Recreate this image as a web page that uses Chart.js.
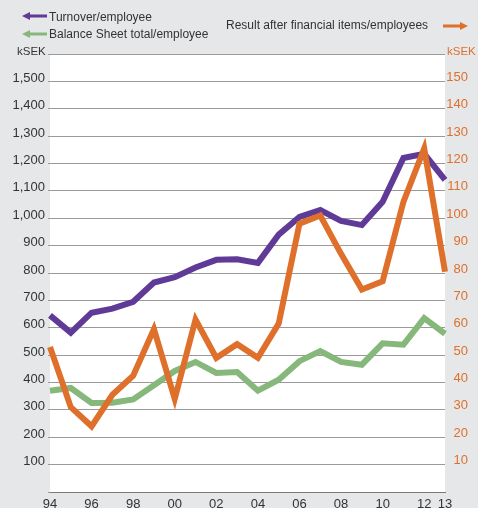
<!DOCTYPE html>
<html>
<head>
<meta charset="utf-8">
<script src="https://cdn.jsdelivr.net/npm/chart.js@4/dist/chart.umd.min.js"></script>
<style>
    body { margin: 0; background: #e6e7e8; font-family: "Liberation Sans", Arial, sans-serif; }
    #wrap { position: relative; width: 478px; height: 508px; overflow: hidden; }
    #wrap canvas { position: absolute; left: 0; top: 0; }
    .lbl { position: absolute; font-size: 12px; line-height: 14px; color: #333; white-space: nowrap; }
    .unit { position: absolute; font-size: 11.5px; line-height: 14px; white-space: nowrap; }
    .arrow { position: absolute; }
</style>
</head>
<body>
<div id="wrap">
    <canvas id="chart" width="478" height="508"></canvas>

    <svg class="arrow" style="left:22px;top:12px" width="25" height="8"><polygon points="0,4 8,0 8,2.5 25,2.5 25,5.5 8,5.5 8,8" fill="#603a97"/></svg>
    <div class="lbl" style="left:49px;top:10px">Turnover/employee</div>

    <svg class="arrow" style="left:22px;top:30px" width="25" height="8"><polygon points="0,4 8,0 8,2.5 25,2.5 25,5.5 8,5.5 8,8" fill="#86b77b"/></svg>
    <div class="lbl" style="left:49px;top:27px">Balance Sheet total/employee</div>

    <div class="lbl" style="left:226px;top:18px">Result after financial items/employees</div>
    <svg class="arrow" style="left:443px;top:22px" width="25" height="8"><polygon points="25,4 17,0 17,2.5 0,2.5 0,5.5 17,5.5 17,8" fill="#de702c"/></svg>

    <div class="unit" style="left:17px;top:44px;color:#333">kSEK</div>
    <div class="unit" style="left:447px;top:44px;color:#de702c">kSEK</div>
</div>
<script>
const years = ['94', '95', '96', '97', '98', '99', '00', '01', '02', '03',
               '04', '05', '06', '07', '08', '09', '10', '11', '12', '13'];
const shownYears = ['94', '96', '98', '00', '02', '04', '06', '08', '10', '12', '13'];

// kSEK, left axis
const turnover = [645, 582, 655, 670, 695, 765, 785, 820, 848, 850,
                  837, 940, 1005, 1030, 990, 975, 1060, 1220, 1235, 1140];
const balanceSheet = [370, 380, 325, 326, 338, 390, 442, 475, 435, 438,
                      370, 410, 478, 515, 475, 465, 543, 538, 635, 578];
// kSEK, right axis
const result = [53, 31, 24, 35.5, 42.5, 59.5, 34, 63, 49, 54,
                49, 61.5, 98, 101, 87, 74, 77, 106, 125.5, 80.5];

const purple = '#603a97';
const green = '#86b77b';
const orange = '#de702c';

const whiteArea = {
    id: 'whiteArea',
    beforeDraw(chart) {
        const a = chart.chartArea;
        const c = chart.ctx;
        c.save();
        c.fillStyle = '#ffffff';
        c.fillRect(a.left, a.top, a.right - a.left, a.bottom - a.top);
        c.restore();
    }
};

const lineStyle = {
    borderWidth: 6,
    pointRadius: 0,
    tension: 0,
    borderJoinStyle: 'miter',
    borderCapStyle: 'butt',
    fill: false
};

new Chart(document.getElementById('chart').getContext('2d'), {
    type: 'line',
    data: {
        labels: years,
        datasets: [
            Object.assign({ label: 'Turnover/employee', data: turnover, borderColor: purple, yAxisID: 'y', order: 1 }, lineStyle),
            Object.assign({ label: 'Balance Sheet total/employee', data: balanceSheet, borderColor: green, yAxisID: 'y', order: 2 }, lineStyle),
            Object.assign({ label: 'Result after financial items/employees', data: result, borderColor: orange, yAxisID: 'y2', order: 0 }, lineStyle)
        ]
    },
    options: {
        responsive: false,
        animation: false,
        layout: { padding: { top: 54, left: 0, right: 10, bottom: 0 } },
        plugins: {
            legend: { display: false },
            tooltip: { enabled: false }
        },
        scales: {
            x: {
                offset: false,
                grid: { display: false, drawTicks: false },
                border: { display: true, color: '#7a7a7a', width: 1 },
                afterFit: s => { s.height = 16; },
                ticks: {
                    autoSkip: false,
                    maxRotation: 0,
                    padding: 5,
                    color: '#333',
                    font: { family: 'Liberation Sans', size: 13 },
                    callback: function(v, i) {
                        const l = years[i];
                        return shownYears.includes(l) ? l : '';
                    }
                }
            },
            y: {
                position: 'left',
                min: 0,
                max: 1600,
                afterFit: s => { s.width = 50; },
                grid: { color: '#9a9a9a', lineWidth: 1, tickLength: 2 },
                border: { display: false },
                ticks: {
                    stepSize: 100,
                    padding: 3,
                    labelOffset: -3,
                    color: '#333',
                    font: { family: 'Liberation Sans', size: 13 },
                    callback: v => (v === 0 || v === 1600) ? '' : v.toLocaleString('en-US')
                }
            },
            y2: {
                position: 'right',
                min: 0,
                max: 160,
                afterFit: s => { s.width = 23; },
                grid: { display: false, drawTicks: false },
                border: { display: false },
                ticks: {
                    stepSize: 10,
                    padding: 1,
                    labelOffset: -4,
                    crossAlign: 'far',
                    color: orange,
                    font: { family: 'Liberation Sans', size: 13 },
                    callback: v => (v === 0 || v === 160) ? '' : v
                }
            }
        }
    },
    plugins: [whiteArea]
});
</script>
</body>
</html>
